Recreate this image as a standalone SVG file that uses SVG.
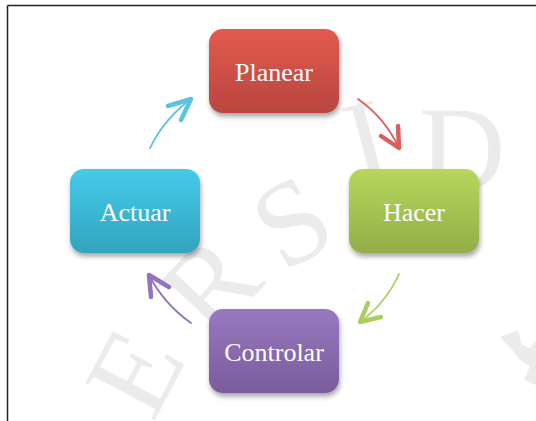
<svg xmlns="http://www.w3.org/2000/svg" width="536" height="421" viewBox="0 0 536 421">
  <style>
    .wm { font-family: "Liberation Serif", "Times New Roman", serif; font-size: 120px; fill: #ebebeb; text-anchor: middle; }
    .box { filter: url(#shadow); }
    .label { font-family: "Liberation Serif", "Times New Roman", serif; font-size: 26px; fill: #ffffff; text-anchor: middle; }
    .curve { fill: none; stroke-width: 1.8; stroke-linecap: round; }
    .head { fill: none; stroke-width: 4.5; stroke-linecap: round; stroke-linejoin: round; }
  </style>
  <defs>
    <filter id="shadow" x="-20%" y="-20%" width="140%" height="150%">
      <feDropShadow dx="1" dy="3.5" stdDeviation="2.5" flood-color="#000" flood-opacity="0.35"/>
    </filter>
    <linearGradient id="gRed" x1="0" y1="0" x2="0" y2="1">
      <stop offset="0" stop-color="#e35a4f"/>
      <stop offset="1" stop-color="#b8463f"/>
    </linearGradient>
    <linearGradient id="gGreen" x1="0" y1="0" x2="0" y2="1">
      <stop offset="0" stop-color="#b6d75b"/>
      <stop offset="1" stop-color="#93ad49"/>
    </linearGradient>
    <linearGradient id="gCyan" x1="0" y1="0" x2="0" y2="1">
      <stop offset="0" stop-color="#45cbea"/>
      <stop offset="1" stop-color="#33a3be"/>
    </linearGradient>
    <linearGradient id="gPurple" x1="0" y1="0" x2="0" y2="1">
      <stop offset="0" stop-color="#9878bf"/>
      <stop offset="1" stop-color="#7a5c9b"/>
    </linearGradient>
  </defs>

  <rect x="0" y="0" width="536" height="421" fill="#ffffff"/>

  <g id="watermark">
    <text class="wm" transform="translate(135,372) rotate(-62)" x="0" y="40">E</text>
    <text class="wm" transform="translate(210,285) rotate(-47)" x="0" y="40">R</text>
    <text class="wm" transform="translate(292,222) rotate(-30)" x="0" y="40">S</text>
    <text class="wm" transform="translate(367,142) rotate(-15)" x="0" y="40">I</text>
    <text class="wm" transform="translate(462,150) rotate(0)" x="0" y="40">D</text>
    <polygon points="500,337 518,330 522,345 530,348 536,340 536,385 524,380 530,366 520,360 512,350" fill="#ebebeb"/>
  </g>

  <g id="frame" stroke="#222" stroke-width="1.5" fill="none">
    <line x1="7.5" y1="5.5" x2="536" y2="5.5"/>
    <line x1="7.5" y1="5.5" x2="7.5" y2="421"/>
  </g>

  <g id="connectors">
    <g stroke="#5bc3de">
      <path class="curve" d="M150,148 Q164,119 191,99"/>
      <polyline class="head" points="168,106 191,99 181,120"/>
    </g>
    <g stroke="#d9605a">
      <path class="curve" d="M358,99 Q385,118 399,148"/>
      <polyline class="head" points="381,136 399,148 398,126"/>
    </g>
    <g stroke="#a9cd5e">
      <path class="curve" d="M399,274 Q386,303 360,322"/>
      <polyline class="head" points="368,303 360,322 381,317"/>
    </g>
    <g stroke="#9274be">
      <path class="curve" d="M191,323 Q164,304 149,275"/>
      <polyline class="head" points="151,297 149,275 169,287"/>
    </g>
  </g>

  <g id="planear">
    <rect class="box" x="209" y="29" width="130" height="84" rx="14" fill="url(#gRed)"/>
    <text class="label" x="274" y="80.5">Planear</text>
  </g>
  <g id="hacer">
    <rect class="box" x="349" y="169" width="130" height="84" rx="14" fill="url(#gGreen)"/>
    <text class="label" x="414" y="220.5">Hacer</text>
  </g>
  <g id="controlar">
    <rect class="box" x="209" y="309" width="130" height="84" rx="14" fill="url(#gPurple)"/>
    <text class="label" x="274" y="360.5">Controlar</text>
  </g>
  <g id="actuar">
    <rect class="box" x="70" y="169" width="130" height="84" rx="14" fill="url(#gCyan)"/>
    <text class="label" x="135" y="220.5">Actuar</text>
  </g>
</svg>
